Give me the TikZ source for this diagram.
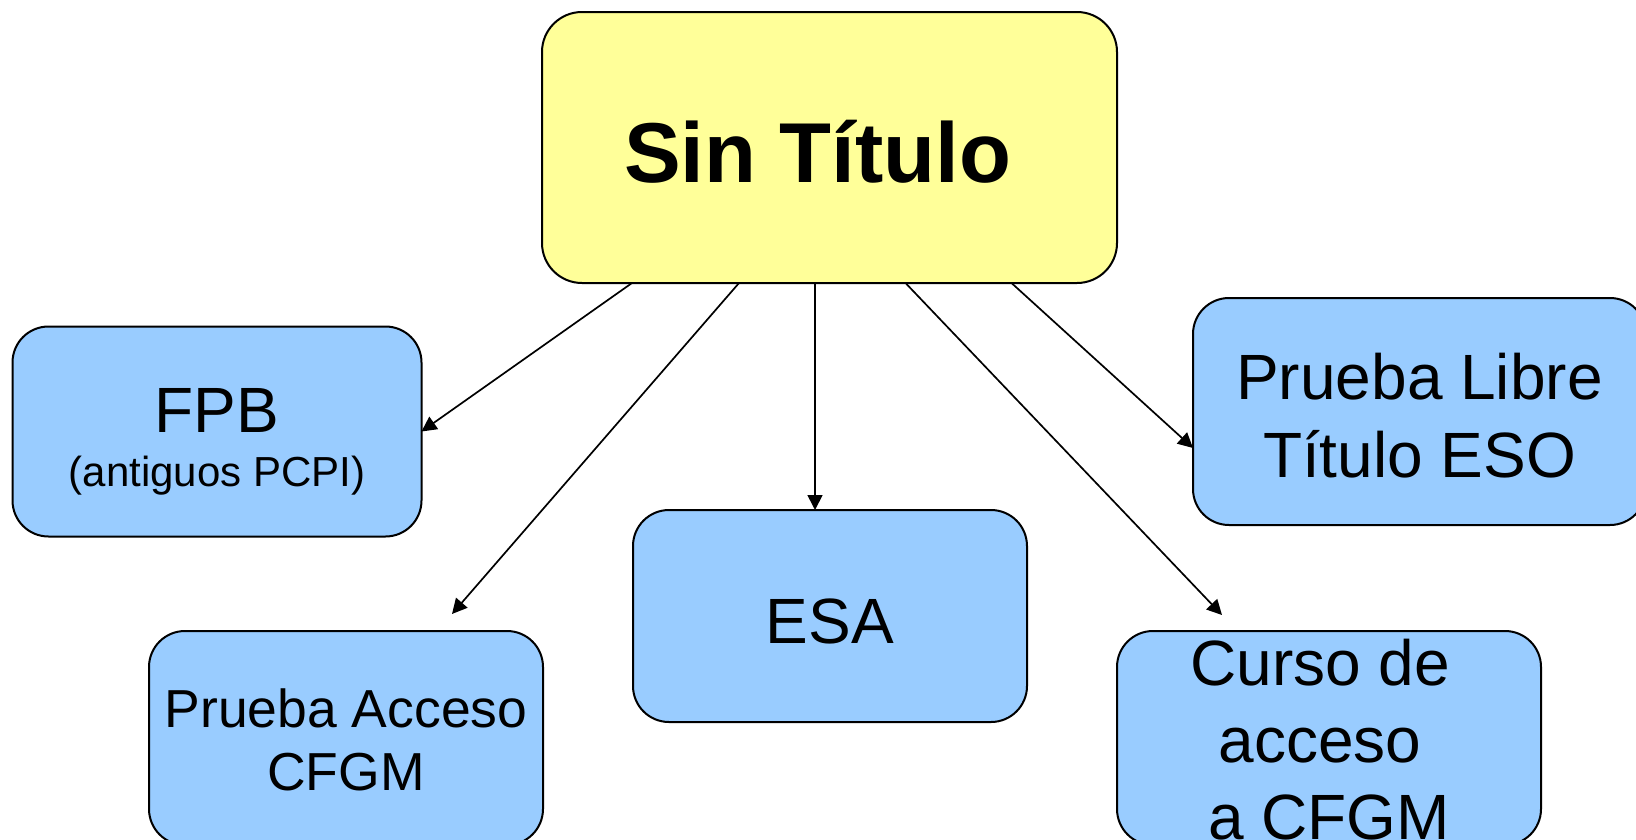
\documentclass[tikz,border=0pt]{standalone}
\usepackage{fontspec}
\setmainfont{Liberation Sans}
\usetikzlibrary{arrows.meta,calc}
\definecolor{titlefill}{HTML}{FFFF99}
\definecolor{boxfill}{HTML}{99CCFF}
\begin{document}
\begin{tikzpicture}[x=1pt,y=-1pt,
  box/.style={draw=black, line width=2pt, rounded corners=36pt, fill=boxfill, inner sep=0pt, outer sep=0pt},
  titlebox/.style={draw=black, line width=2pt, rounded corners=40pt, fill=titlefill, inner sep=0pt, outer sep=0pt},
  link/.style={-{Triangle[length=15pt,width=15pt]}, line width=1.7pt, draw=black},
  big/.style={font=\fontsize{64}{76.8}\selectfont}]
\useasboundingbox (0,0) rectangle (1636,839);
\fill[white] (0,0) rectangle (1636,839);
\clip (0,0) rectangle (1636,839);

\node[titlebox, minimum width=575pt, minimum height=271pt, text height=69pt, text depth=0pt,
      font=\bfseries\fontsize{85}{102}\selectfont] (title) at (829.5,147.5) {Sin Título\kern.278em};

\node[box, minimum width=409pt, minimum height=210pt, text height=2pt, text depth=0pt,
      font=\fontsize{64}{53.5}\selectfont] (fpb) at (217,431.5)
  {\begin{tabular}[t]{@{}c@{}}FPB\\{\fontsize{42}{50}\selectfont (antiguos PCPI)}\end{tabular}};

\node[box, minimum width=394pt, minimum height=212pt, text height=54pt, text depth=0pt, big] (esa) at (830,616) {ESA};

\node[box, minimum width=394pt, minimum height=214pt, text height=0pt, text depth=22pt,
      font=\fontsize{53.5}{63}\selectfont] (acceso) at (346,738)
  {\begin{tabular}[t]{@{}c@{}}Prueba Acceso\\CFGM\end{tabular}};

\node[box, minimum width=453pt, minimum height=227pt, text height=0pt, text depth=25pt,
      font=\fontsize{64}{78}\selectfont] (libre) at (1419.5,411.5)
  {\begin{tabular}[t]{@{}c@{}}Prueba Libre\\Título ESO\end{tabular}};

\node[box, minimum width=424pt, minimum height=214pt, text height=0pt, text depth=106pt,
      font=\fontsize{64}{77}\selectfont] (curso) at (1329,738)
  {\begin{tabular}[t]{@{}c@{}}Curso de\kern.278em\\acceso\kern.278em\\a CFGM\end{tabular}};

\coordinate (s1) at ($(title.south west)!0.1565!(title.south east)$);
\coordinate (s2) at ($(title.south west)!0.3426!(title.south east)$);
\coordinate (s3) at ($(title.south west)!0.4748!(title.south east)$);
\coordinate (s4) at ($(title.south west)!0.6322!(title.south east)$);
\coordinate (s5) at ($(title.south west)!0.8165!(title.south east)$);
\coordinate (e2) at ($(acceso.north west)+(303,-17)$);
\coordinate (e4) at ($(curso.north west)+(105,-16)$);
\coordinate (e5) at ($(libre.west)+(0,36.5)$);

\draw[link] (s1) -- (fpb.east);
\draw[link] (s2) -- (e2);
\draw[link] (s3) -- (s3 |- esa.north);
\draw[link] (s4) -- (e4);
\draw[link] (s5) -- (e5);
\end{tikzpicture}
\end{document}
